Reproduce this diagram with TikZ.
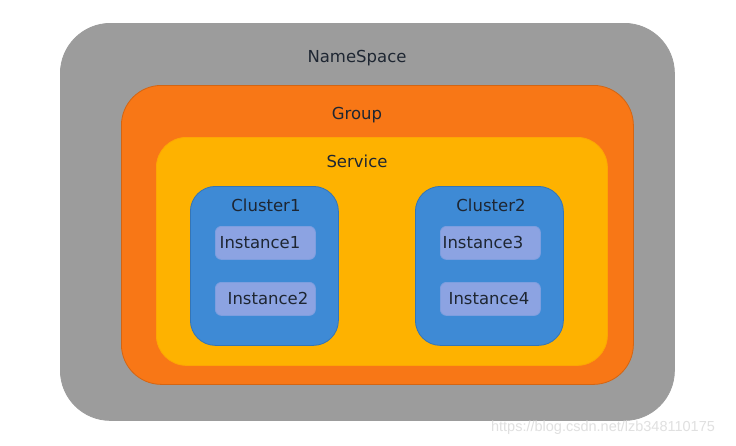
\documentclass[tikz,border=0pt]{standalone}
\usepackage{fontspec}
\setmainfont{DejaVu Sans}
\newfontfamily\wmfont{Liberation Sans}
\definecolor{nsgray}{HTML}{9C9C9C}
\definecolor{grporange}{HTML}{F87716}
\definecolor{srvyellow}{HTML}{FEB200}
\definecolor{clblue}{HTML}{3E8AD5}
\definecolor{instblue}{HTML}{8CA3E2}
\definecolor{txtdark}{HTML}{1E2632}
\tikzset{
  zone/.style 2 args={fill=#1,draw=#1!85!black,line width=0.8pt,rounded corners=#2,
    inner sep=0pt,anchor=north west},
  lbl/.style={text=txtdark,font=\fontsize{16.5}{18}\selectfont,inner sep=0pt}
}
\begin{document}
\begin{tikzpicture}[x=1pt,y=-1pt]
\useasboundingbox[fill=white](0,0)rectangle(736,445);
\node[zone={nsgray}{50pt},draw=nsgray,minimum width=614pt,minimum height=397pt](ns)at(60,23){};
\node[zone={grporange}{40pt},minimum width=512pt,minimum height=299pt](grp)at(121,85){};
\node[zone={srvyellow}{30pt},draw=srvyellow!80!grporange,minimum width=451pt,minimum height=228pt](srv)at(156,137){};
\foreach \c/\x in {1/190,2/415}{
  \node[zone={clblue}{25pt},minimum width=148pt,minimum height=159pt](cl\c)at(\x,186){};
  \node[lbl](cl\c label)at(\x+76,205){Cluster\c};
}
\foreach \i/\x/\y/\t in {1/215/226/260,2/215/282/268,3/440/226/483,4/440/282/489}{
  \node[zone={instblue}{6pt},draw=instblue!80!clblue,minimum width=100pt,minimum height=33pt](inst\i)at(\x,\y){};
  \node[lbl](inst\i label)at(\t,\y+16.5){Instance\i};
}
\node[lbl](ns label)at(357,58){NameSpace};
\node[lbl](grp label)at(357,115){Group};
\node[lbl](srv label)at(357,161){Service};
\node[text=black!12,font=\wmfont\fontsize{14.5}{16}\selectfont,inner sep=0pt](wm)at(603,428){https://blog.csdn.net/lzb348110175};
\end{tikzpicture}
\end{document}
